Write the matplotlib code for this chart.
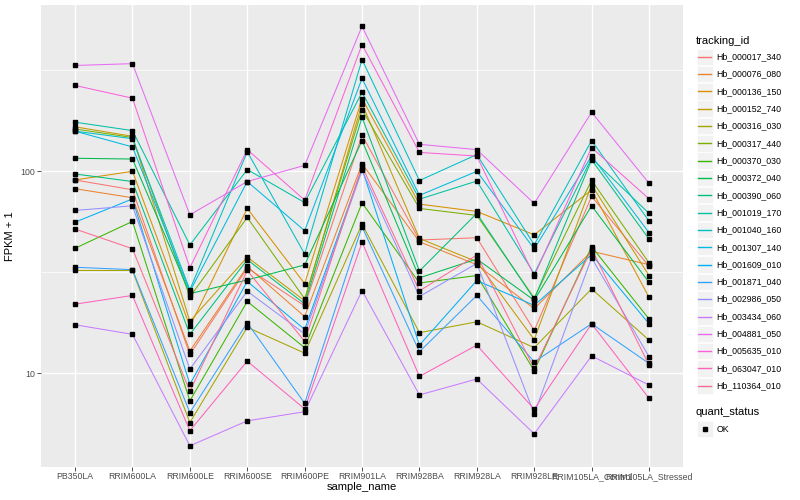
import numpy as np
import matplotlib
matplotlib.use("Agg")
import matplotlib.pyplot as plt
from matplotlib.ticker import FixedLocator, NullFormatter
from matplotlib.patches import Rectangle

plt.rcParams['font.family'] = ['Liberation Sans', 'DejaVu Sans']

samples = ["PB350LA", "RRIM600LA", "RRIM600LE", "RRIM600SE", "RRIM600PE",
           "RRIM901LA", "RRIM928BA", "RRIM928LA", "RRIM928LE",
           "RRIM105LA_Control", "RRIM105LA_Stressed"]

genes = ["Hb_000017_340", "Hb_000076_080", "Hb_000136_150", "Hb_000152_740",
         "Hb_000316_030", "Hb_000317_440", "Hb_000370_030", "Hb_000372_040",
         "Hb_000390_060", "Hb_001019_170", "Hb_001040_160", "Hb_001307_140",
         "Hb_001609_010", "Hb_001871_040", "Hb_002986_050", "Hb_003434_060",
         "Hb_004881_050", "Hb_005635_010", "Hb_063047_010", "Hb_110364_010"]

# ggplot hue palette, 20 levels
colors = ["#F8766D", "#EA8331", "#D89000", "#C09B00", "#A3A500", "#7CAE00",
          "#39B600", "#00BB4E", "#00BF7D", "#00C1A3", "#00BFC4", "#00BAE0",
          "#00B0F6", "#35A2FF", "#9590FF", "#C77CFF", "#E76BF3", "#FA62DB",
          "#FF62BC", "#FF6C91"]

# FPKM + 1, one row per gene, columns follow samples
fpkm_plus1 = [
    [90.6, 81, 12.4, 33.2, 21.6, 151, 45.7, 46.9, 16.3, 75.1, 33.9],
    [82, 74, 12.9, 33.8, 19.1, 109, 44.8, 34.5, 20.9, 40.2, 34.5],
    [90.6, 100, 17.1, 65.5, 27.8, 229, 68.8, 63.3, 48.5, 80.9, 23.8],
    [166, 149, 18.1, 37.6, 22.9, 216, 46.5, 35.7, 14.7, 85.7, 30.5],
    [32.3, 32.3, 5.71, 16.9, 12.6, 54.8, 15.9, 18, 13.4, 26.2, 14.6],
    [162, 147, 23.9, 59.1, 23.4, 202, 65.5, 60.5, 23.6, 90.3, 35.2],
    [41.6, 56.5, 7.31, 22.7, 13.4, 69.8, 28, 30.5, 10.3, 42.4, 18.6],
    [116, 115, 24.8, 29.0, 34.4, 142, 29.7, 36.8, 23, 67.5, 28.2],
    [97, 89, 15.6, 36.5, 22.1, 185, 32.1, 61.9, 23.3, 114, 46.2],
    [175, 159, 43.2, 102, 70, 246, 72.8, 89.5, 31.1, 116, 61.9],
    [158, 145, 25.9, 125, 39, 357, 90, 121, 43.3, 142, 56.7],
    [158, 132, 25.4, 89, 50.8, 288, 76, 100, 41.3, 119, 49.7],
    [56, 73, 8.83, 28.5, 16.5, 103, 13.8, 28.8, 21.7, 38.7, 17.6],
    [33.5, 32.6, 6.4, 17.8, 7.11, 53.2, 12.8, 24.3, 11.4, 17.6, 11.2],
    [64, 67.5, 10.5, 25.5, 15.7, 101, 24, 35, 6.3, 37.3, 12.1],
    [17.4, 15.6, 4.38, 5.82, 6.46, 25.7, 7.82, 9.38, 5.02, 12.2, 8.75],
    [334, 341, 60.9, 89, 107, 522, 136, 128, 69.3, 196, 87.3],
    [266, 230, 33.3, 128, 72, 424, 124, 119, 30.3, 131, 73.1],
    [22, 24.3, 5.2, 11.5, 6.67, 44.6, 9.66, 13.8, 6.65, 17.6, 7.53],
    [51.8, 41.4, 8.15, 32.3, 14.4, 106, 25.6, 38.5, 10.6, 41.3, 11],
]

x = np.arange(1, len(samples) + 1)
vals = np.array(fpkm_plus1)

fig = plt.figure(figsize=(8, 5), dpi=100)
ax = fig.add_axes([0.0508, 0.0664, 0.8035, 0.923])
ax.set_facecolor("#EBEBEB")

for i, g in enumerate(genes):
    ax.plot(x, vals[i], color=colors[i], lw=0.75, zorder=3)
for i in range(len(genes)):
    ax.plot(x, vals[i], ls="none", marker="s", ms=2.8, color="black", zorder=4)

ax.set_yscale("log")
lo, hi = np.log10(vals.min()), np.log10(vals.max())
pad = 0.05 * (hi - lo)
ax.set_ylim(10 ** (lo - pad), 10 ** (hi + pad))
ax.set_xlim(0.4, len(samples) + 0.6)

ax.yaxis.set_major_locator(FixedLocator([10, 100]))
ax.set_yticklabels(["10", "100"])
ax.yaxis.set_minor_locator(FixedLocator([10 ** 0.5, 10 ** 1.5, 10 ** 2.5]))
ax.yaxis.set_minor_formatter(NullFormatter())
ax.set_xticks(x)
ax.set_xticklabels(samples)

ax.grid(True, which="major", color="white", lw=1.0, zorder=0)
ax.grid(True, which="minor", axis="y", color="white", lw=0.5, zorder=0)
ax.set_axisbelow(True)
for s in ax.spines.values():
    s.set_visible(False)
ax.tick_params(which="major", length=2.8, width=0.6, color="#333333",
               labelsize=6.3, labelcolor="#4D4D4D", pad=1)
ax.tick_params(which="minor", length=0)

ax.set_xlabel("sample_name", fontsize=8, labelpad=1)
ax.set_ylabel("FPKM + 1", fontsize=8, labelpad=4)

# legend drawn on an overlay in pixel coordinates
lax = fig.add_axes([0, 0, 1, 1], facecolor="none")
lax.set_xlim(0, 800)
lax.set_ylim(500, 0)
lax.axis("off")
lax.text(696, 41, "tracking_id", fontsize=8, va="center", ha="left")
for i, g in enumerate(genes):
    yc = 56.7 + i * 17.32
    lax.add_patch(Rectangle((696.5, yc - 8.2), 16.4, 16.4, fc="#F2F2F2", ec="white", lw=0.5))
    lax.plot([698, 711], [yc, yc], color=colors[i], lw=1.0)
    lax.text(716.5, yc, g, fontsize=6.3, va="center", ha="left")
lax.text(696, 412, "quant_status", fontsize=8, va="center", ha="left")
lax.add_patch(Rectangle((696.5, 420.8), 16.4, 16.4, fc="#F2F2F2", ec="white", lw=0.5))
lax.plot([704.7], [429], ls="none", marker="s", ms=2.8, color="black")
lax.text(716.5, 429, "OK", fontsize=6.3, va="center", ha="left")

fig.savefig("out.png", dpi=100)
